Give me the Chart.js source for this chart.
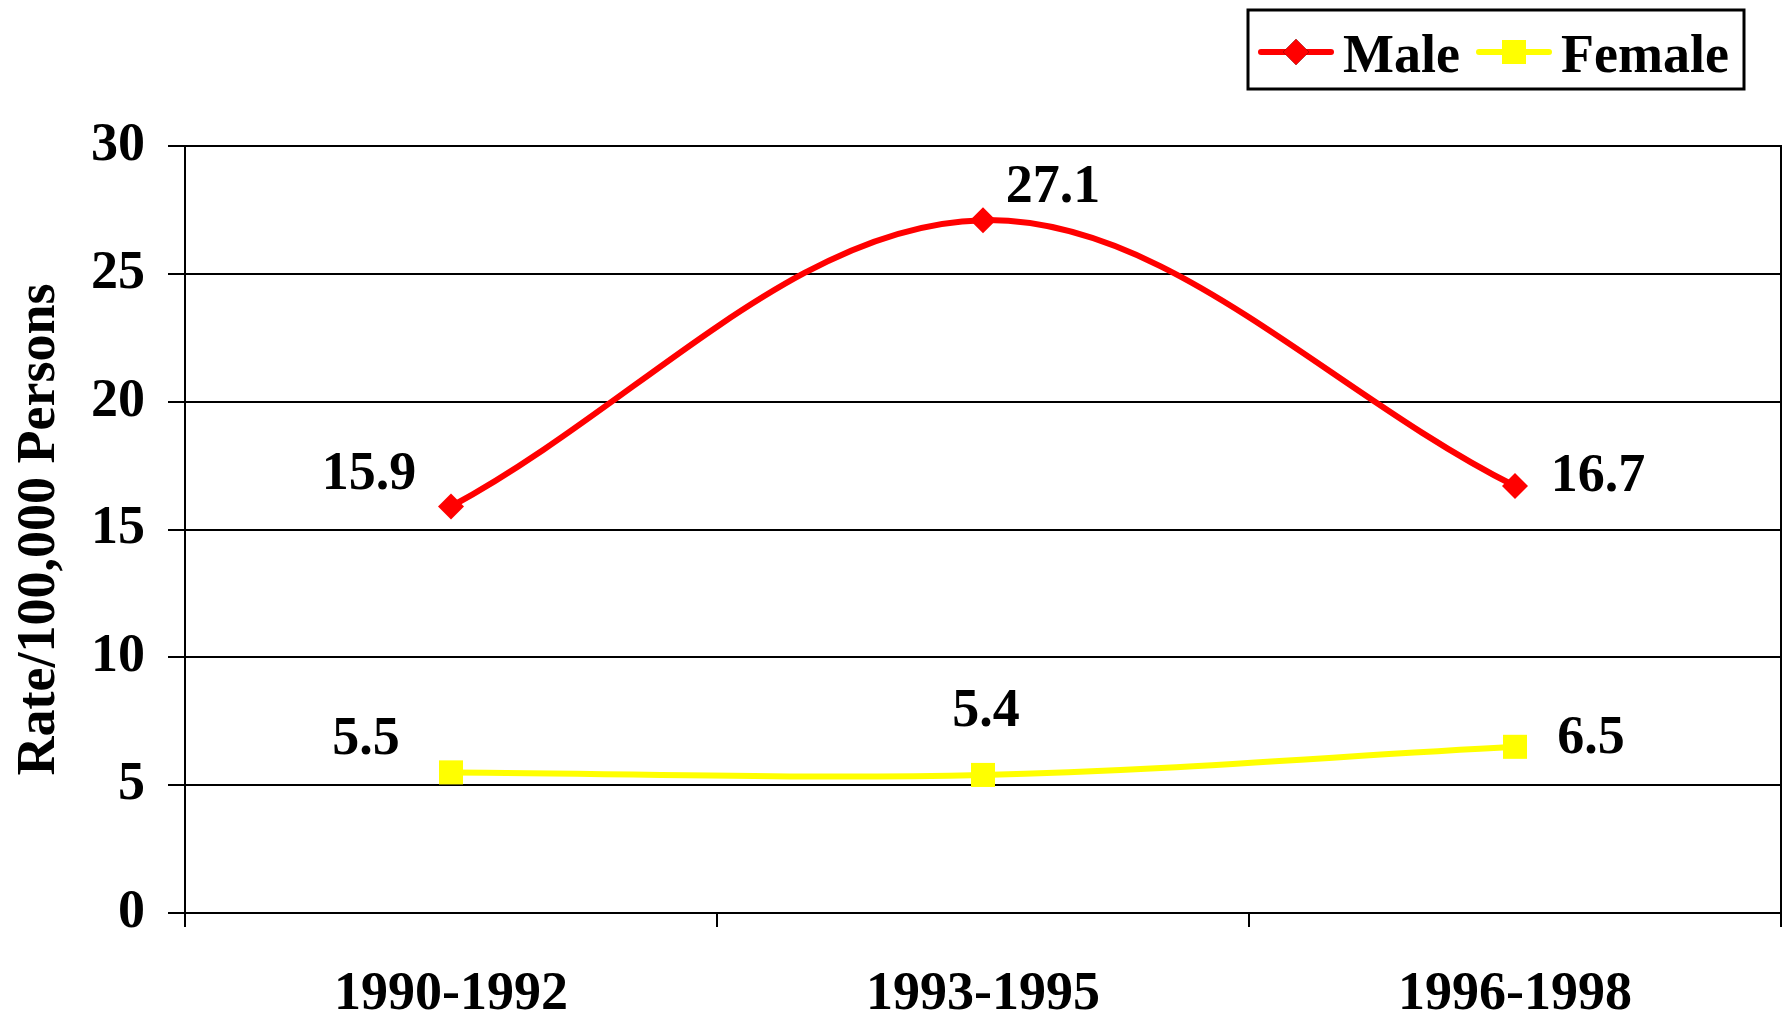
<!DOCTYPE html>
<html>
<head>
<meta charset="utf-8">
<script src="https://cdn.jsdelivr.net/npm/chart.js@4/dist/chart.umd.min.js"></script>
<style>
  html, body { margin: 0; padding: 0; background: #ffffff; }
  #wrap { width: 1782px; height: 1014px; }
</style>
</head>
<body>
<div id="wrap"><canvas id="c" width="1782" height="1014"></canvas></div>
<script>
// Rate per 100,000 persons by period and sex
const periods = ['1990-1992', '1993-1995', '1996-1998'];
const maleRates = [15.9, 27.1, 16.7];
const femaleRates = [5.5, 5.4, 6.5];
const yTicks = [0, 5, 10, 15, 20, 25, 30];
const yTitle = 'Rate/100,000 Persons';

const FONT = '"Liberation Serif", "Times New Roman", serif';
const RED = '#ff0000';
const YELLOW = '#ffff00';

// where each value label sits relative to its point (px)
const labelOffsets = [
  [[-82, -31], [70, -32], [83, -9]],
  [[-85, -32], [3, -63], [76, -8]]
];

const valueLabels = {
  id: 'valueLabels',
  afterDatasetsDraw(chart) {
    const ctx = chart.ctx;
    ctx.save();
    ctx.font = 'bold 54px ' + FONT;
    ctx.fillStyle = '#000';
    ctx.textAlign = 'center';
    ctx.textBaseline = 'middle';
    chart.data.datasets.forEach((ds, di) => {
      const meta = chart.getDatasetMeta(di);
      meta.data.forEach((pt, i) => {
        const off = labelOffsets[di][i];
        ctx.fillText(ds.data[i].toFixed(1), pt.x + off[0], pt.y + off[1]);
      });
    });
    ctx.restore();
  }
};

// right edge of the plot frame, running down past the axis like a tick
const plotFrame = {
  id: 'plotFrame',
  beforeDatasetsDraw(chart) {
    const { ctx, chartArea } = chart;
    ctx.save();
    ctx.strokeStyle = '#000';
    ctx.lineWidth = 2;
    ctx.beginPath();
    ctx.moveTo(chartArea.right, chartArea.top - 1);
    ctx.lineTo(chartArea.right, chartArea.bottom + 14);
    ctx.stroke();
    ctx.restore();
  }
};

// boxed legend in the top-right corner
const boxLegend = {
  id: 'boxLegend',
  afterDraw(chart) {
    const ctx = chart.ctx;
    ctx.save();
    ctx.strokeStyle = '#000';
    ctx.lineWidth = 3;
    ctx.strokeRect(1248, 10, 496, 79);
    const items = [
      { ds: chart.data.datasets[0], x0: 1261, x1: 1331, tx: 1343 },
      { ds: chart.data.datasets[1], x0: 1479, x1: 1549, tx: 1561 }
    ];
    const cy = 52;
    items.forEach(it => {
      ctx.strokeStyle = it.ds.borderColor;
      ctx.lineWidth = 6;
      ctx.lineCap = 'round';
      ctx.beginPath();
      ctx.moveTo(it.x0, cy);
      ctx.lineTo(it.x1, cy);
      ctx.stroke();
      Chart.helpers.drawPoint(ctx, {
        pointStyle: it.ds.pointStyle,
        radius: it.ds.pointRadius,
        borderWidth: 0,
        rotation: 0
      }, (it.x0 + it.x1) / 2, cy);
      ctx.fillStyle = it.ds.pointBackgroundColor;
      ctx.fill();
      ctx.fillStyle = '#000';
      ctx.font = 'bold 54px ' + FONT;
      ctx.textAlign = 'left';
      ctx.textBaseline = 'alphabetic';
      ctx.fillText(it.ds.label, it.tx, 72);
    });
    ctx.restore();
  }
};

new Chart(document.getElementById('c'), {
  type: 'line',
  data: {
    labels: periods,
    datasets: [
      {
        label: 'Male',
        data: maleRates,
        borderColor: RED,
        backgroundColor: RED,
        borderWidth: 6,
        tension: 0.35,
        pointStyle: 'rectRot',
        pointRadius: 13,
        pointHoverRadius: 13,
        pointBackgroundColor: RED,
        pointBorderColor: RED,
        pointBorderWidth: 0
      },
      {
        label: 'Female',
        data: femaleRates,
        borderColor: YELLOW,
        backgroundColor: YELLOW,
        borderWidth: 6,
        tension: 0.35,
        pointStyle: 'rect',
        pointRadius: 17,
        pointHoverRadius: 17,
        pointBackgroundColor: YELLOW,
        pointBorderColor: YELLOW,
        pointBorderWidth: 0
      }
    ]
  },
  options: {
    responsive: false,
    animation: false,
    devicePixelRatio: 1,
    layout: {
      autoPadding: false,
      padding: { top: 146, right: 1, left: 0, bottom: 0 }
    },
    plugins: {
      legend: { display: false },
      tooltip: { enabled: false },
      title: { display: false }
    },
    scales: {
      x: {
        type: 'category',
        offset: true,
        grid: {
          offset: true,
          drawOnChartArea: false,
          color: '#000',
          lineWidth: 2,
          tickLength: 14
        },
        border: { display: true, color: '#000', width: 2 },
        ticks: {
          color: '#000',
          font: { family: FONT, size: 54, weight: 'bold' },
          padding: 36,
          maxRotation: 0
        },
        afterFit(scale) { scale.height = 101; }
      },
      y: {
        min: 0,
        max: 30,
        afterBuildTicks(scale) { scale.ticks = yTicks.map(v => ({ value: v })); },
        grid: {
          color: '#000',
          lineWidth: 2,
          tickLength: 17
        },
        border: { display: true, color: '#000', width: 2 },
        ticks: {
          color: '#000',
          font: { family: FONT, size: 54, weight: 'bold' },
          padding: 23
        },
        title: {
          display: true,
          text: yTitle,
          color: '#000',
          font: { family: FONT, size: 54, weight: 'bold' },
          padding: { top: 8, bottom: 0 }
        },
        afterFit(scale) { scale.width = 185; }
      }
    }
  },
  plugins: [plotFrame, valueLabels, boxLegend]
});
</script>
</body>
</html>
